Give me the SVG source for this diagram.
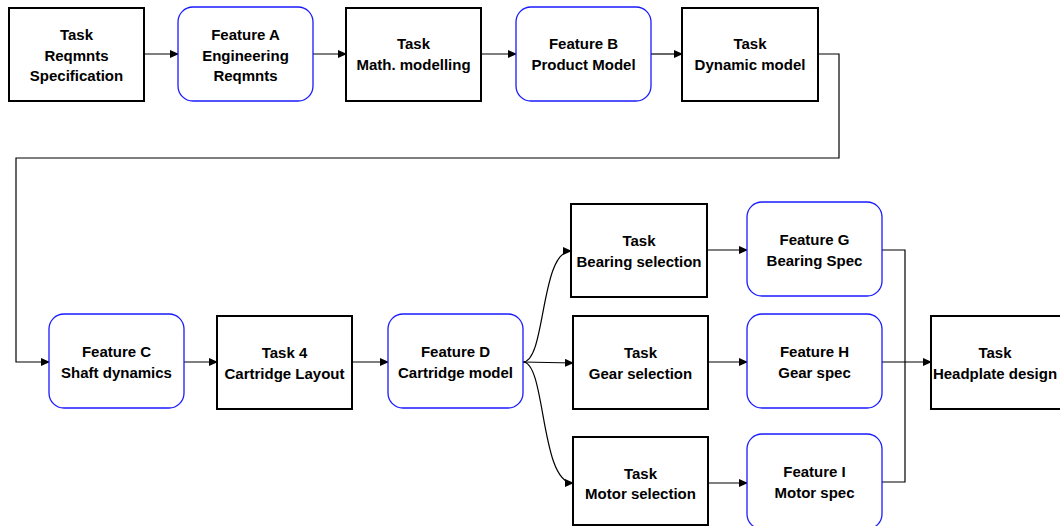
<svg xmlns="http://www.w3.org/2000/svg" width="1060" height="526" viewBox="0 0 1060 526">
<defs>
<marker id="ah" markerWidth="9" markerHeight="8" refX="8" refY="4" orient="auto" markerUnits="userSpaceOnUse">
<path d="M0,0 L9,4 L0,8 Z" fill="#000"/>
</marker>
<style>
.task{fill:#fff;stroke:#000;stroke-width:2}
.feat{fill:#fff;stroke:#1a1aff;stroke-width:1.3}
text{font-family:"Liberation Sans",Arial,sans-serif;font-weight:bold;font-size:15px;text-anchor:middle;fill:#000}
.c{fill:none;stroke:#000;stroke-width:1.2}
</style>
</defs>
<rect width="1060" height="526" fill="#fff"/>
<g id="connectors">
<path class="c" d="M144,54 L178,54" marker-end="url(#ah)"/>
<path class="c" d="M313,54 L346,54" marker-end="url(#ah)"/>
<path class="c" d="M481,54 L516,54" marker-end="url(#ah)"/>
<path class="c" d="M651,54 L682,54" marker-end="url(#ah)"/>
<path class="c" d="M818,54 L839,54 L839,158 L16,158 L16,362 L49,362" marker-end="url(#ah)"/>
<path class="c" d="M184,362 L217,362" marker-end="url(#ah)"/>
<path class="c" d="M352,362 L388,362" marker-end="url(#ah)"/>
<path class="c" d="M523,362 C546,362 540,251 571,251" marker-end="url(#ah)"/>
<path class="c" d="M523,362 L573,363" marker-end="url(#ah)"/>
<path class="c" d="M523,362 C546,362 540,483 573,483" marker-end="url(#ah)"/>
<path class="c" d="M707,250 L747,250" marker-end="url(#ah)"/>
<path class="c" d="M708,362 L747,362" marker-end="url(#ah)"/>
<path class="c" d="M708,483 L747,483" marker-end="url(#ah)"/>
<path class="c" d="M882,250 L905,250 L905,482 L882,482"/>
<path class="c" d="M882,362 L931,362" marker-end="url(#ah)"/>
</g>
<g id="taskReqmnts">
<rect class="task" x="9" y="8" width="135" height="93"/>
<text x="76.5" y="40">Task</text>
<text x="76.5" y="60.5">Reqmnts</text>
<text x="76.5" y="81">Specification</text>
</g>
<g id="featureA">
<rect class="feat" x="178" y="7" width="135" height="94" rx="15"/>
<text x="245.5" y="40">Feature A</text>
<text x="245.5" y="60.5">Engineering</text>
<text x="245.5" y="81">Reqmnts</text>
</g>
<g id="taskMath">
<rect class="task" x="346" y="8" width="135" height="93"/>
<text x="413.5" y="49">Task</text>
<text x="413.5" y="70">Math. modelling</text>
</g>
<g id="featureB">
<rect class="feat" x="516" y="7" width="135" height="94" rx="15"/>
<text x="583.5" y="49">Feature B</text>
<text x="583.5" y="70">Product Model</text>
</g>
<g id="taskDynamic">
<rect class="task" x="682" y="8" width="136" height="93"/>
<text x="750" y="49">Task</text>
<text x="750" y="70">Dynamic model</text>
</g>
<g id="featureC">
<rect class="feat" x="49" y="314" width="135" height="94" rx="15"/>
<text x="116.5" y="357">Feature C</text>
<text x="116.5" y="377.5">Shaft dynamics</text>
</g>
<g id="task4">
<rect class="task" x="217" y="316" width="135" height="93"/>
<text x="284.5" y="358">Task 4</text>
<text x="284.5" y="379">Cartridge Layout</text>
</g>
<g id="featureD">
<rect class="feat" x="388" y="314" width="135" height="94" rx="15"/>
<text x="455.5" y="357">Feature D</text>
<text x="455.5" y="378">Cartridge model</text>
</g>
<g id="taskBearing">
<rect class="task" x="571" y="204" width="136" height="93"/>
<text x="639" y="246">Task</text>
<text x="639" y="266.5">Bearing selection</text>
</g>
<g id="taskGear">
<rect class="task" x="573" y="316" width="135" height="93"/>
<text x="640.5" y="358">Task</text>
<text x="640.5" y="379">Gear selection</text>
</g>
<g id="taskMotor">
<rect class="task" x="573" y="437" width="135" height="88"/>
<text x="640.5" y="479">Task</text>
<text x="640.5" y="499">Motor selection</text>
</g>
<g id="featureG">
<rect class="feat" x="747" y="202" width="135" height="94" rx="15"/>
<text x="814.5" y="245">Feature G</text>
<text x="814.5" y="266">Bearing Spec</text>
</g>
<g id="featureH">
<rect class="feat" x="747" y="314" width="135" height="94" rx="15"/>
<text x="814.5" y="357">Feature H</text>
<text x="814.5" y="378">Gear spec</text>
</g>
<g id="featureI">
<rect class="feat" x="747" y="434" width="135" height="95" rx="15"/>
<text x="814.5" y="477">Feature I</text>
<text x="814.5" y="498">Motor spec</text>
</g>
<g id="taskHeadplate">
<rect class="task" x="931" y="316" width="140" height="93"/>
<text x="995" y="358">Task</text>
<text x="995" y="379">Headplate design</text>
</g>
</svg>
